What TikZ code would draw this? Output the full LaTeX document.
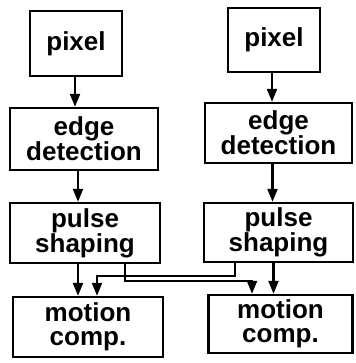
\documentclass[tikz,border=0pt]{standalone}
\usepackage{fontspec}
\setmainfont{Liberation Sans}
\usetikzlibrary{arrows.meta,calc}
\begin{document}
\begin{tikzpicture}[x=1pt,y=-1pt,
  blk/.style={draw,line width=2.4pt,inner sep=0pt,align=center,
    font=\fontsize{26}{23.5}\selectfont\bfseries},
  arr/.style={line width=2.2pt,-{Triangle[length=13pt,width=10pt]}},
  ln/.style={line width=2.2pt}]
\useasboundingbox (0,0) rectangle (355,363);
\node[blk,minimum width=92pt,minimum height=65pt] (lpix) at (76,43.5) {pixel};
\node[blk,minimum width=148pt,minimum height=62pt] (ledge) at (84,139) {edge\\detection};
\node[blk,minimum width=150pt,minimum height=60pt] (lpul) at (85,233) {pulse\\shaping};
\node[blk,minimum width=150pt,minimum height=60pt] (lmot) at (88,327) {motion\\comp.};
\node[blk,minimum width=92pt,minimum height=64pt] (rpix) at (274,40) {pixel};
\node[blk,minimum width=147pt,minimum height=60pt] (redge) at (278.5,133) {edge\\detection};
\node[blk,minimum width=149pt,minimum height=59pt] (rpul) at (278.5,232.5) {pulse\\shaping};
\node[blk,minimum width=144pt,minimum height=58pt] (rmot) at (280.5,324) {motion\\comp.};
% vertical arrows
\draw[arr] ($(lpix.south)+(-1,0)$) -- ($(lpix.south |- ledge.north)+(-1,0)$);
\draw[arr] ($(ledge.south)+(-6,0)$) -- ($(ledge.south |- lpul.north)+(-6,0)$);
\draw[arr] ($(rpix.south)+(-2,0)$) -- ($(rpix.south |- redge.north)+(-2,0)$);
\draw[arr] ($(redge.south)+(-6,0)$) -- ($(redge.south |- rpul.north)+(-6,0)$);
\draw[arr] ($(lpul.south)+(-7,0)$) -- ($(lpul.south |- lmot.north)+(-7,0)$);
\draw[arr] ($(rpul.south)+(-5,0)$) -- ($(rpul.south |- rmot.north)+(-5,0)$);
% cross connections
\coordinate (c1) at ($(rpul.south)+(-43.5,0)$);
\coordinate (c2) at ($(lmot.north)+(9,0)$);
\draw[arr] (c1) -- (c1 |- 0,276) -- (c2 |- 0,276) -- (c2);
\coordinate (c3) at ($(lpul.south)+(40,0)$);
\coordinate (c4) at ($(rmot.north)+(-28.5,0)$);
\draw[arr] (c3) -- (c3 |- 0,281) -- (c4 |- 0,281) -- (c4);
\end{tikzpicture}
\end{document}
